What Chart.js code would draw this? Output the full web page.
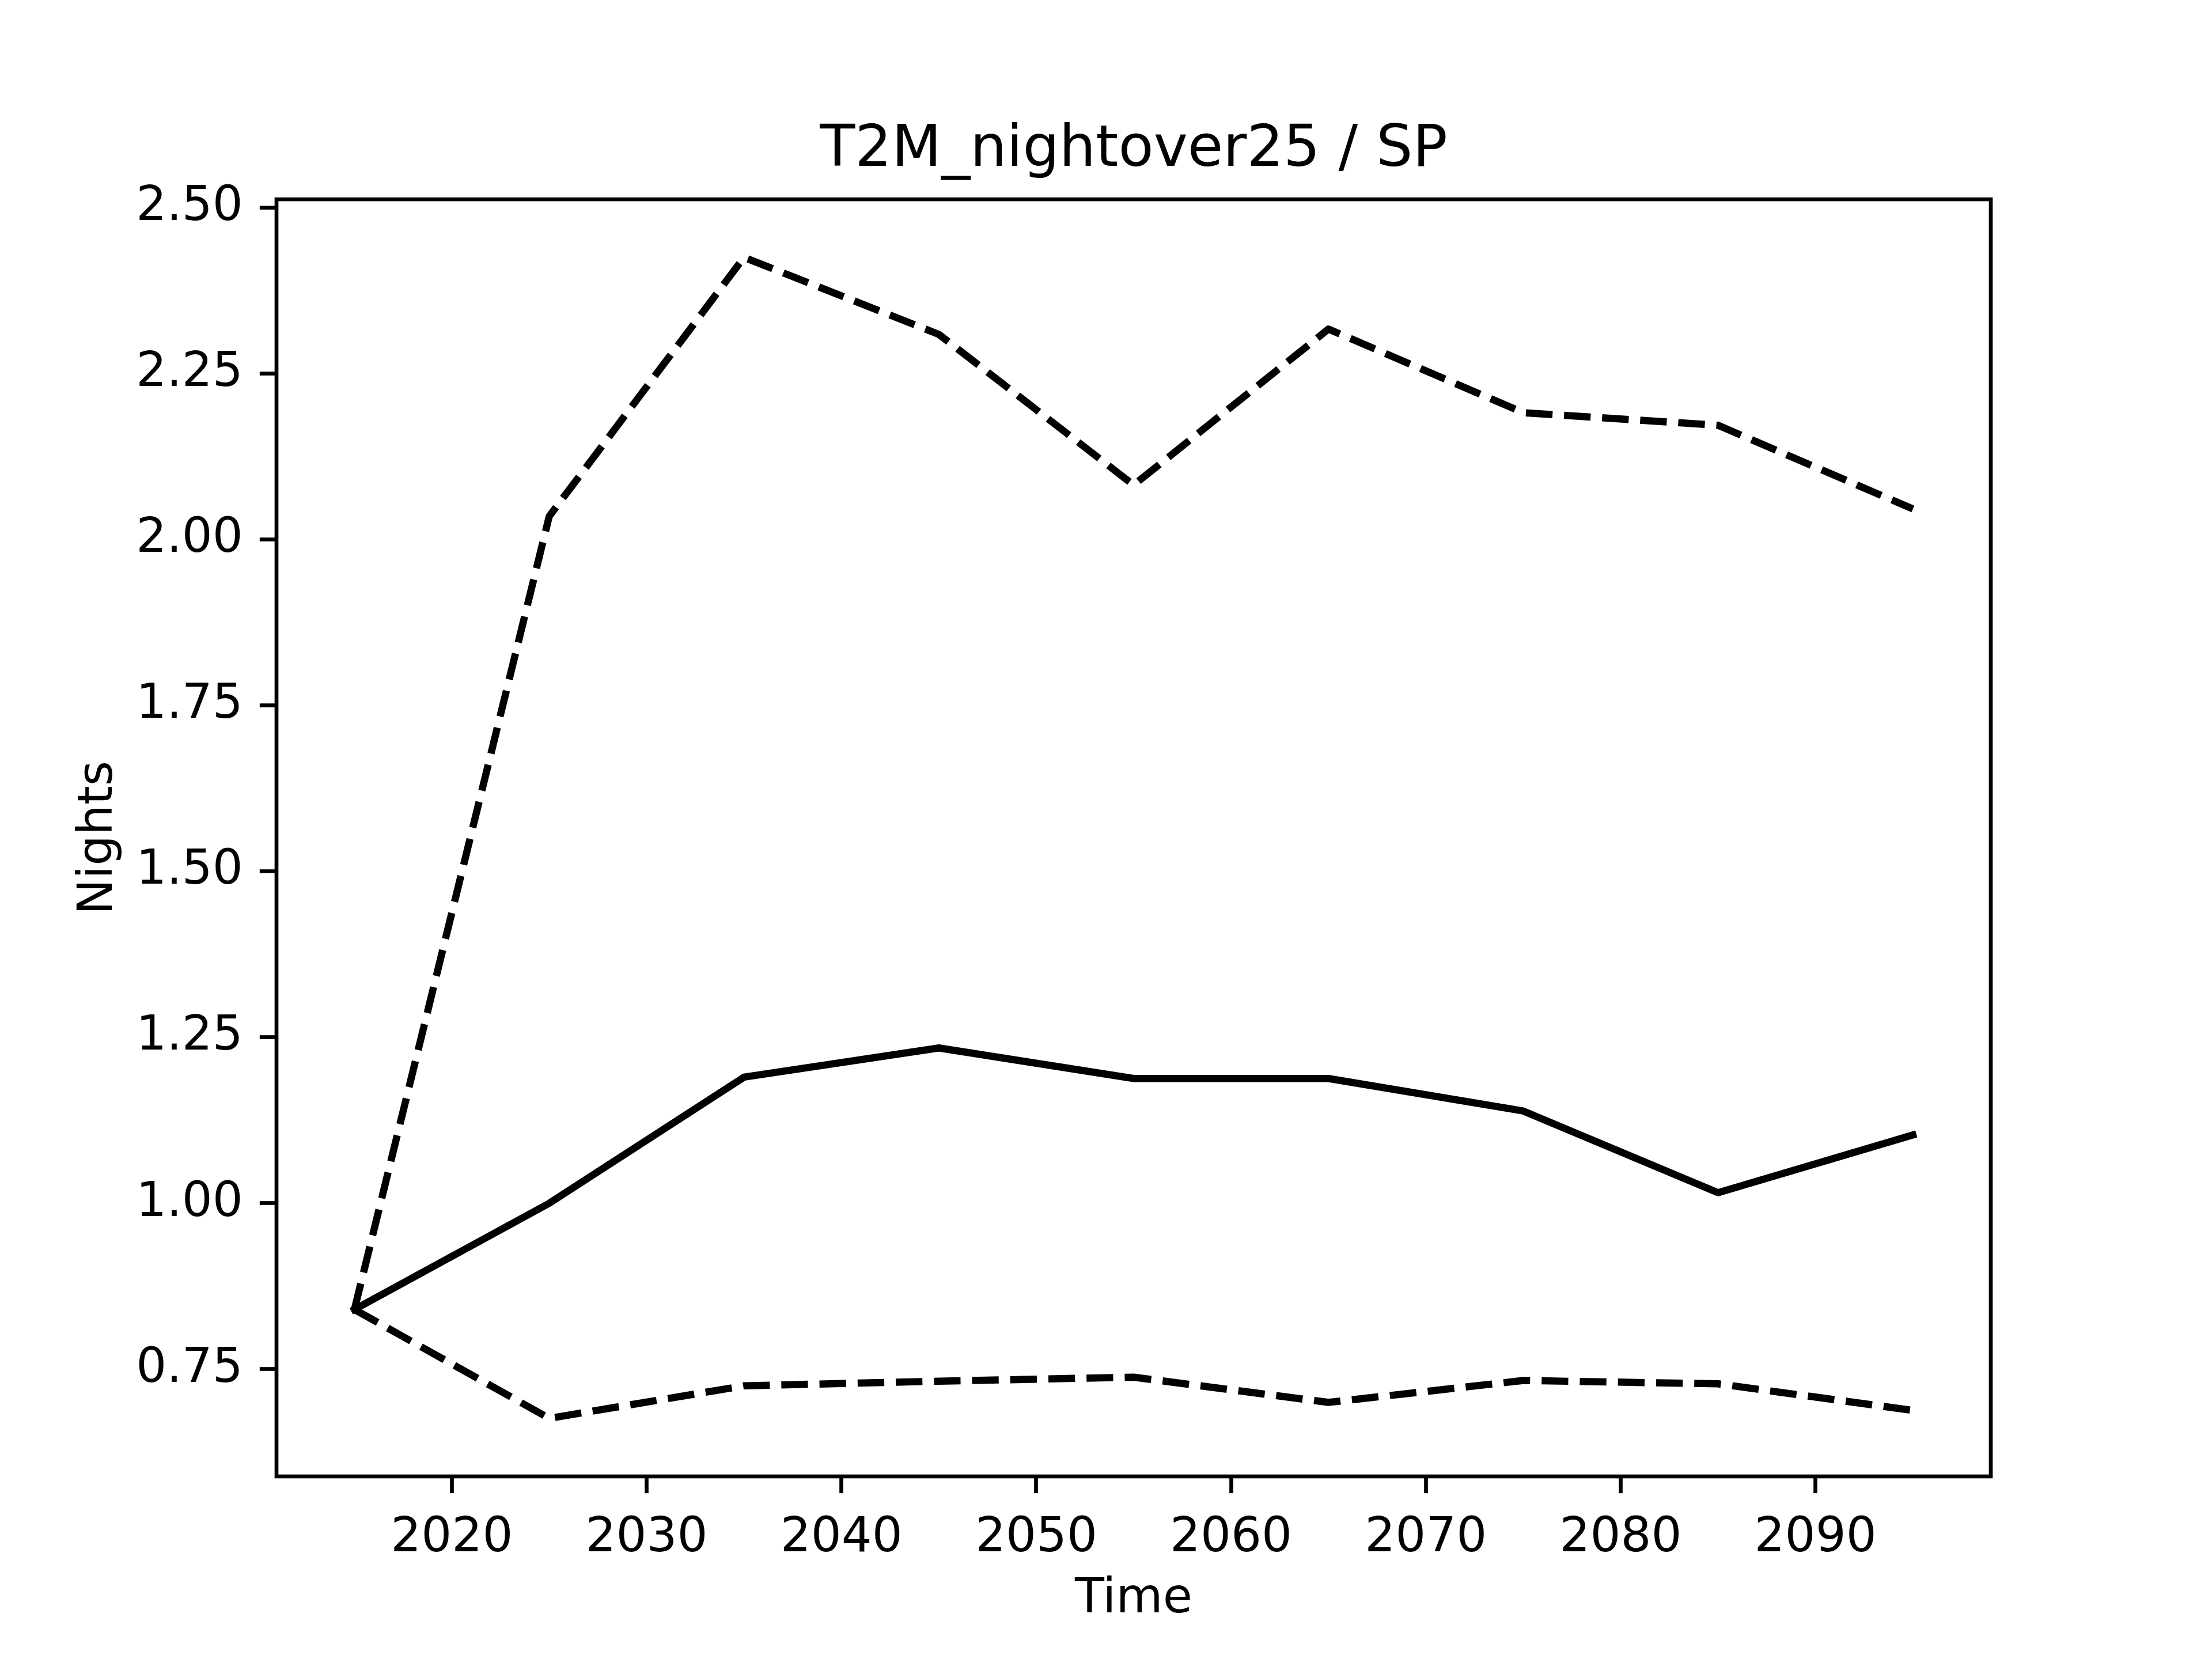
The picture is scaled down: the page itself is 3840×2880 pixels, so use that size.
<!DOCTYPE html>
<html>
<head>
<meta charset="utf-8">
<script src="https://cdn.jsdelivr.net/npm/chart.js@4/dist/chart.umd.min.js"></script>
<style>
    html, body { margin: 0; padding: 0; background: #fff; }
    #wrap { width: 3840px; height: 2880px; }
</style>
</head>
<body>
<div id="wrap"><canvas id="nightsChart" width="3840" height="2880"></canvas></div>
<script>
// values
const years = [2015, 2025, 2035, 2045, 2055, 2065, 2075, 2085, 2095];
const meanNights  = [0.84, 1.00, 1.19, 1.234, 1.188, 1.188, 1.139, 1.016, 1.103];
const upperNights = [0.84, 2.035, 2.425, 2.309, 2.082, 2.317, 2.191, 2.172, 2.046];
const lowerNights = [0.84, 0.676, 0.725, 0.732, 0.738, 0.700, 0.733, 0.728, 0.688];
const xTicks = [2020, 2030, 2040, 2050, 2060, 2070, 2080, 2090];
const yTicks = [0.75, 1.00, 1.25, 1.50, 1.75, 2.00, 2.25, 2.50];

document.addEventListener('DOMContentLoaded', function () {
    const font = 'DejaVu Sans';
    const pt = 600 / 72; // figure is 600 dpi

    // matplotlib style 5% margins
    const all = meanNights.concat(upperNights, lowerNights);
    const yLo = Math.min(...all), yHi = Math.max(...all);
    const yPad = (yHi - yLo) * 0.05;
    const xPad = (years[years.length - 1] - years[0]) * 0.05;

    const toPoints = (vals) => years.map((y, i) => ({ x: y, y: vals[i] }));

    // draw the axes box over the lines, like matplotlib spines
    const frame = {
        id: 'frame',
        afterDatasetsDraw(chart) {
            const { ctx, chartArea: a } = chart;
            ctx.save();
            ctx.strokeStyle = '#000';
            ctx.lineWidth = 0.8 * pt;
            ctx.strokeRect(a.left, a.top, a.right - a.left, a.bottom - a.top);
            ctx.restore();
        }
    };

    const lineStyle = {
        borderColor: '#000',
        borderWidth: 1.5 * pt,
        borderJoinStyle: 'round',
        pointRadius: 0,
        tension: 0,
        fill: false
    };

    const ctx = document.getElementById('nightsChart').getContext('2d');
    new Chart(ctx, {
        type: 'line',
        data: {
            datasets: [
                Object.assign({ label: 'mean', data: toPoints(meanNights), borderCapStyle: 'square' }, lineStyle),
                Object.assign({ label: 'upper', data: toPoints(upperNights), borderDash: [3.7 * 1.5 * pt, 1.6 * 1.5 * pt], borderCapStyle: 'butt' }, lineStyle),
                Object.assign({ label: 'lower', data: toPoints(lowerNights), borderDash: [3.7 * 1.5 * pt, 1.6 * 1.5 * pt], borderCapStyle: 'butt' }, lineStyle)
            ]
        },
        options: {
            responsive: false,
            animation: false,
            devicePixelRatio: 1,
            layout: { padding: { left: 0, right: 384, top: 0, bottom: 0 } },
            plugins: {
                legend: { display: false },
                tooltip: { enabled: false },
                title: {
                    display: true,
                    text: 'T2M_nightover25 / SP',
                    fullSize: false,
                    color: '#000',
                    font: { family: font, size: 12 * pt, weight: 'normal', lineHeight: 1.2 },
                    padding: { top: 202, bottom: 24 }
                }
            },
            scales: {
                x: {
                    type: 'linear',
                    min: years[0] - xPad,
                    max: years[years.length - 1] + xPad,
                    afterBuildTicks: (scale) => { scale.ticks = xTicks.map(v => ({ value: v })); },
                    afterFit: (scale) => { scale.height = 317; },
                    ticks: {
                        color: '#000',
                        padding: 3.5 * pt,
                        maxRotation: 0,
                        font: { family: font, size: 10 * pt },
                        callback: (v) => String(v)
                    },
                    grid: {
                        drawOnChartArea: false,
                        drawTicks: true,
                        tickLength: 3.5 * pt,
                        tickWidth: 0.8 * pt,
                        tickColor: '#000'
                    },
                    border: { display: false },
                    title: {
                        display: true,
                        text: 'Time',
                        color: '#000',
                        font: { family: font, size: 10 * pt, lineHeight: 1.2 },
                        padding: { top: 0, bottom: 53 }
                    }
                },
                y: {
                    type: 'linear',
                    min: yLo - yPad,
                    max: yHi + yPad,
                    afterBuildTicks: (scale) => { scale.ticks = yTicks.map(v => ({ value: v })); },
                    afterFit: (scale) => { scale.width = 480; },
                    ticks: {
                        color: '#000',
                        padding: 3.5 * pt,
                        font: { family: font, size: 10 * pt },
                        callback: (v) => v.toFixed(2)
                    },
                    grid: {
                        drawOnChartArea: false,
                        drawTicks: true,
                        tickLength: 3.5 * pt,
                        tickWidth: 0.8 * pt,
                        tickColor: '#000'
                    },
                    border: { display: false },
                    title: {
                        display: true,
                        text: 'Nights',
                        color: '#000',
                        font: { family: font, size: 10 * pt, lineHeight: 1.2 },
                        padding: { top: 122, bottom: 0 }
                    }
                }
            }
        },
        plugins: [frame]
    });
});
</script>
</body>
</html>
